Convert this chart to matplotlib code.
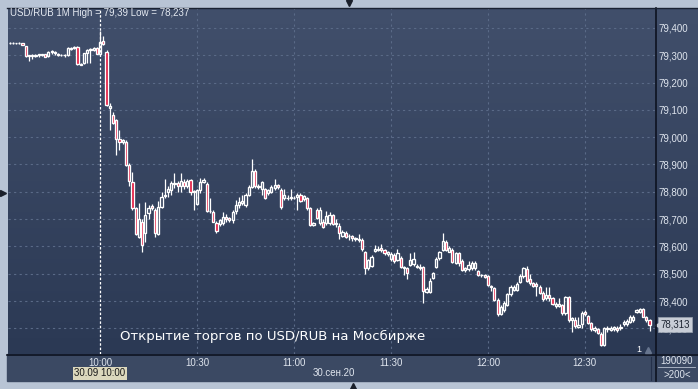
import numpy as np
import pandas as pd
import matplotlib
matplotlib.use("Agg")
import matplotlib.pyplot as plt
from matplotlib.lines import Line2D
from matplotlib.patches import Rectangle
from matplotlib.colors import LinearSegmentedColormap
from matplotlib.ticker import FuncFormatter
import matplotlib.transforms as mtransforms

# Minutenkerzen USD/RUB, 30.09.2020, 09:32 .. 12:50
times = pd.date_range("2020-09-30 09:32", "2020-09-30 12:50", freq="1min")
event_time = pd.Timestamp("2020-09-30 10:00")

opens = [79.344, 79.345, 79.344, 79.345, 79.344, 79.333, 79.298, 79.300, 79.299, 79.301,
         79.302, 79.304, 79.296, 79.312, 79.312, 79.306, 79.302, 79.300, 79.300, 79.324,
         79.326, 79.332, 79.266, 79.270, 79.308, 79.318, 79.320, 79.326,
         79.305, 79.352, 79.313, 79.108, 79.080, 79.063, 78.992, 78.984, 78.982, 78.898,
         78.837, 78.740, 78.635, 78.690, 78.650, 78.722, 78.748, 78.733, 78.646, 78.745,
         78.785, 78.800, 78.807, 78.828, 78.834, 78.823, 78.836, 78.822, 78.843, 78.802,
         78.755, 78.807, 78.836, 78.829, 78.730, 78.727, 78.687, 78.682, 78.685, 78.708,
         78.703, 78.697, 78.730, 78.752, 78.760, 78.752, 78.788, 78.817, 78.877, 78.821,
         78.812, 78.810, 78.795, 78.800, 78.813, 78.825, 78.808, 78.776, 78.776, 78.776,
         78.777, 78.782, 78.788, 78.772, 78.776, 78.740, 78.680, 78.733, 78.685, 78.691,
         78.687, 78.685, 78.715, 78.682, 78.675, 78.639, 78.650, 78.637, 78.638, 78.630,
         78.627, 78.623, 78.580, 78.520, 78.529, 78.585, 78.586, 78.594, 78.586, 78.571,
         78.553, 78.570, 78.550, 78.556, 78.520, 78.520, 78.532, 78.535, 78.524, 78.526,
         78.526, 78.434, 78.434, 78.483, 78.526, 78.556, 78.587, 78.617, 78.581, 78.587,
         78.540, 78.575, 78.548, 78.513, 78.516, 78.520, 78.520, 78.510, 78.494, 78.497,
         78.490, 78.455, 78.447, 78.404, 78.352, 78.367, 78.385, 78.426, 78.440, 78.440,
         78.471, 78.490, 78.516, 78.480, 78.465, 78.464, 78.450, 78.428, 78.410, 78.422,
         78.410, 78.382, 78.383, 78.385, 78.357, 78.416, 78.330, 78.330, 78.306, 78.317,
         78.361, 78.345, 78.320, 78.293, 78.296, 78.280, 78.240, 78.296, 78.293, 78.296,
         78.303, 78.300, 78.315, 78.317, 78.324, 78.330, 78.360, 78.360, 78.370, 78.343,
         78.330]
highs = [79.347, 79.347, 79.346, 79.348, 79.345, 79.335, 79.302, 79.303, 79.304, 79.304,
         79.306, 79.306, 79.316, 79.318, 79.315, 79.309, 79.305, 79.303, 79.330, 79.330,
         79.333, 79.334, 79.272, 79.310, 79.322, 79.326, 79.332, 79.330,
         79.390, 79.370, 79.318, 79.125, 79.093, 79.068, 79.026, 78.995, 78.990, 78.905,
         78.874, 78.745, 78.760, 78.700, 78.764, 78.750, 78.755, 78.740, 78.765, 78.800,
         78.846, 78.820, 78.840, 78.870, 78.840, 78.870, 78.845, 78.848, 78.848, 78.808,
         78.812, 78.850, 78.850, 78.835, 78.776, 78.735, 78.692, 78.700, 78.725, 78.720,
         78.708, 78.735, 78.770, 78.780, 78.790, 78.795, 78.825, 78.920, 78.885, 78.830,
         78.838, 78.815, 78.812, 78.825, 78.846, 78.830, 78.815, 78.810, 78.790, 78.810,
         78.785, 78.795, 78.795, 78.790, 78.782, 78.745, 78.690, 78.740, 78.745, 78.700,
         78.730, 78.725, 78.720, 78.700, 78.687, 78.660, 78.655, 78.645, 78.640, 78.635,
         78.645, 78.630, 78.585, 78.555, 78.570, 78.605, 78.600, 78.607, 78.590, 78.582,
         78.580, 78.575, 78.590, 78.565, 78.530, 78.525, 78.575, 78.578, 78.535, 78.535,
         78.530, 78.450, 78.485, 78.505, 78.560, 78.585, 78.648, 78.625, 78.600, 78.595,
         78.580, 78.580, 78.555, 78.525, 78.545, 78.545, 78.548, 78.515, 78.500, 78.500,
         78.495, 78.460, 78.452, 78.410, 78.385, 78.400, 78.430, 78.460, 78.460, 78.470,
         78.500, 78.525, 78.530, 78.500, 78.470, 78.468, 78.460, 78.435, 78.450, 78.450,
         78.415, 78.395, 78.410, 78.390, 78.420, 78.420, 78.340, 78.340, 78.341, 78.365,
         78.368, 78.350, 78.325, 78.310, 78.300, 78.285, 78.305, 78.310, 78.310, 78.310,
         78.310, 78.315, 78.330, 78.335, 78.348, 78.350, 78.370, 78.375, 78.375, 78.345,
         78.333]
lows = [79.342, 79.343, 79.342, 79.343, 79.336, 79.295, 79.280, 79.288, 79.292, 79.295,
        79.297, 79.292, 79.294, 79.306, 79.302, 79.298, 79.296, 79.294, 79.298, 79.318,
        79.322, 79.266, 79.264, 79.268, 79.273, 79.272, 79.316, 79.303,
        79.300, 79.338, 79.115, 79.026, 79.050, 78.935, 78.953, 78.975, 78.895, 78.820,
        78.735, 78.640, 78.630, 78.580, 78.615, 78.700, 78.735, 78.635, 78.640, 78.740,
        78.777, 78.780, 78.790, 78.815, 78.800, 78.800, 78.810, 78.815, 78.790, 78.733,
        78.750, 78.795, 78.832, 78.725, 78.722, 78.688, 78.650, 78.675, 78.680, 78.690,
        78.690, 78.685, 78.720, 78.740, 78.750, 78.745, 78.785, 78.815, 78.815, 78.812,
        78.790, 78.772, 78.790, 78.795, 78.808, 78.812, 78.738, 78.770, 78.770, 78.770,
        78.772, 78.733, 78.762, 78.768, 78.735, 78.673, 78.675, 78.700, 78.680, 78.668,
        78.680, 78.680, 78.678, 78.670, 78.626, 78.635, 78.630, 78.625, 78.620, 78.620,
        78.615, 78.585, 78.500, 78.515, 78.525, 78.580, 78.582, 78.580, 78.570, 78.565,
        78.548, 78.540, 78.545, 78.520, 78.495, 78.480, 78.528, 78.530, 78.520, 78.515,
        78.392, 78.430, 78.430, 78.480, 78.520, 78.550, 78.585, 78.583, 78.578, 78.540,
        78.535, 78.530, 78.510, 78.508, 78.510, 78.515, 78.515, 78.490, 78.488, 78.484,
        78.455, 78.437, 78.400, 78.345, 78.350, 78.360, 78.380, 78.420, 78.435, 78.435,
        78.465, 78.485, 78.470, 78.460, 78.452, 78.420, 78.425, 78.400, 78.405, 78.400,
        78.385, 78.375, 78.378, 78.350, 78.350, 78.325, 78.287, 78.300, 78.300, 78.300,
        78.345, 78.315, 78.290, 78.285, 78.280, 78.237, 78.237, 78.285, 78.290, 78.290,
        78.288, 78.295, 78.310, 78.310, 78.320, 78.325, 78.355, 78.355, 78.340, 78.325,
        78.290]
closes = [79.345, 79.344, 79.345, 79.344, 79.338, 79.297, 79.300, 79.299, 79.302, 79.303,
          79.304, 79.295, 79.313, 79.314, 79.308, 79.302, 79.300, 79.301, 79.326, 79.326,
          79.330, 79.268, 79.268, 79.307, 79.320, 79.322, 79.326, 79.305,
          79.350, 79.340, 79.118, 79.115, 79.053, 78.993, 78.982, 78.990, 78.898, 78.840,
          78.740, 78.645, 78.700, 78.605, 78.715, 78.740, 78.742, 78.650, 78.745, 78.782,
          78.790, 78.810, 78.831, 78.834, 78.823, 78.838, 78.820, 78.840, 78.800, 78.798,
          78.807, 78.837, 78.842, 78.730, 78.728, 78.690, 78.657, 78.695, 78.708, 78.700,
          78.695, 78.727, 78.752, 78.762, 78.765, 78.788, 78.819, 78.877, 78.821, 78.818,
          78.835, 78.777, 78.807, 78.819, 78.825, 78.818, 78.743, 78.788, 78.779, 78.782,
          78.779, 78.788, 78.767, 78.785, 78.740, 78.680, 78.684, 78.703, 78.733, 78.672,
          78.711, 78.715, 78.682, 78.687, 78.648, 78.652, 78.636, 78.639, 78.630, 78.628,
          78.625, 78.589, 78.520, 78.549, 78.563, 78.589, 78.592, 78.586, 78.575, 78.578,
          78.572, 78.545, 78.575, 78.526, 78.523, 78.502, 78.550, 78.555, 78.527, 78.520,
          78.437, 78.443, 78.475, 78.501, 78.553, 78.581, 78.621, 78.587, 78.593, 78.544,
          78.575, 78.538, 78.513, 78.520, 78.532, 78.538, 78.538, 78.494, 78.497, 78.488,
          78.460, 78.452, 78.404, 78.352, 78.379, 78.394, 78.426, 78.453, 78.453, 78.463,
          78.490, 78.520, 78.474, 78.465, 78.456, 78.455, 78.430, 78.406, 78.422, 78.410,
          78.390, 78.388, 78.388, 78.357, 78.416, 78.330, 78.336, 78.310, 78.314, 78.357,
          78.354, 78.320, 78.296, 78.300, 78.284, 78.240, 78.300, 78.300, 78.303, 78.305,
          78.293, 78.305, 78.324, 78.328, 78.343, 78.343, 78.367, 78.370, 78.343, 78.330,
          78.313]

tick_times = ["10:00", "10:30", "11:00", "11:30", "12:00", "12:30"]
price_ticks = [78.3, 78.4, 78.5, 78.6, 78.7, 78.8, 78.9, 79.0, 79.1, 79.2, 79.3, 79.4]
title = "USD/RUB 1M High = 79,39 Low = 78,237"
event_text = "Открытие торгов по USD/RUB на Мосбирже"
cursor_label = "30.09 10:00"
date_label = "30.сен.20"
volume_label = "190090"
count_label = ">200<"

plt.rcParams['font.family'] = ['Liberation Sans', 'DejaVu Sans']

W, H = 698, 389
def fx(px):
    return px / W
def fy(py):
    return 1 - py / H

fig = plt.figure(figsize=(W / 100, H / 100), dpi=100)
fig.patch.set_facecolor('#b8c4d5')

# Hintergrund: Verlauf hinter Chart und Preisskala
bg = fig.add_axes([fx(8), fy(354), 690 / W, 346 / H])
cmap = LinearSegmentedColormap.from_list('bg', ['#414f6b', '#2b3954'])
bg.imshow(np.linspace(0, 1, 256).reshape(-1, 1), cmap=cmap, aspect='auto')
bg.axis('off')
# untere Zeitleiste
fig.add_artist(Rectangle((fx(7), fy(381)), (W - 7) / W, 27 / H,
                         transform=fig.transFigure, color='#3b4963', zorder=0))

ax = fig.add_axes([fx(8), fy(354), 647 / W, 346 / H])
ax.set_facecolor('none')

x = ((times - event_time).total_seconds() / 60).to_numpy()
o = np.array(opens)
h = np.array(highs)
l = np.array(lows)
c = np.array(closes)

ax.set_xlim(-28.5, 171.7)
ax.set_ylim(78.206, 79.473)

# Gitter
tick_pos = [(pd.Timestamp("2020-09-30 " + s) - event_time).total_seconds() / 60 for s in tick_times]
for p in price_ticks:
    ax.axhline(p, color='#5a6a87', lw=0.8, ls=(0, (2, 3)), zorder=1)
for t in tick_pos[1:]:
    ax.axvline(t, color='#5a6a87', lw=0.8, ls=(0, (2, 3)), zorder=1)
ax.axvline(0, color='white', lw=0.9, ls=(0, (2, 1.5)), zorder=2)

# Kerzen
top = np.maximum(o, c)
bot = np.minimum(o, c)
ax.vlines(x, top, h, color='white', lw=0.9, zorder=3)
ax.vlines(x, l, bot, color='white', lw=0.9, zorder=3)
fill = np.where(c >= o, 'none', '#e3173e')
ax.bar(x, c - o, bottom=o, width=0.68, color=list(fill), edgecolor='white',
       linewidth=0.95, zorder=4)

# Achsen
ax.yaxis.tick_right()
ax.set_yticks(price_ticks)
ax.yaxis.set_major_formatter(FuncFormatter(lambda v, _: f"{v:.3f}".replace('.', ',')))
ax.set_xticks(tick_pos)
ax.set_xticklabels(tick_times)
ax.tick_params(axis='both', length=0, colors='#dfe5ee', labelsize=7)
ax.tick_params(axis='y', pad=2.5)
ax.tick_params(axis='x', pad=3)
for s in ax.spines.values():
    s.set_visible(False)

# Trennlinien
fig.add_artist(Line2D([fx(7), fx(W)], [fy(354.5), fy(354.5)], color='#0d1220', lw=1.2))
fig.add_artist(Line2D([fx(655.5), fx(655.5)], [fy(8), fy(381)], color='#0d1220', lw=1.2))
fig.add_artist(Line2D([fx(7), fx(W)], [fy(8), fy(8)], color='#1a2232', lw=1.0))
fig.add_artist(Line2D([fx(651), fx(651)], [fy(357), fy(380)], color='#24304a', lw=0.8))

# Texte
fig.text(fx(10), fy(13), title, color='#e4e9f1', fontsize=7, va='center', ha='left')
fig.text(fx(120), fy(336), event_text, color='white', fontsize=9.5, va='center', ha='left',
         family='DejaVu Sans')
fig.text(fx(100), fy(373.5), cursor_label, color='#1a1a1a', fontsize=7, va='center', ha='center',
         bbox=dict(boxstyle='square,pad=0.15', facecolor='#dcd8bd', edgecolor='none'))
fig.text(fx(334), fy(373.5), date_label, color='#dfe5ee', fontsize=7, va='center', ha='center')
fig.text(fx(677), fy(361), volume_label, color='#dfe5ee', fontsize=7, va='center', ha='center')
fig.add_artist(Line2D([fx(658), fx(695)], [fy(366.5), fy(366.5)], color='#b7c0cf', lw=0.6))
fig.text(fx(677), fy(374.5), count_label, color='#dfe5ee', fontsize=7, va='center', ha='center')
fig.text(fx(639), fy(349), "1", color='white', fontsize=6.5, va='center', ha='center')
fig.add_artist(Line2D([fx(648)], [fy(350)], marker='^', ms=5, color='#67758e', lw=0))

# letzter Kurs
last = closes[-1]
trans = mtransforms.blended_transform_factory(ax.transAxes, ax.transData)
ax.text(1.008, last, f"{last:.3f}".replace('.', ','), transform=trans, color='#1f2633',
        fontsize=7, va='center', ha='left', clip_on=False, zorder=6,
        bbox=dict(boxstyle='square,pad=0.25', facecolor='#c8cdd6', edgecolor='#9aa3b0', lw=0.5))
ax.plot([1.004], [last], transform=trans, marker='<', ms=5, color='#c8cdd6', clip_on=False, zorder=6)

# Rahmenpfeile
fig.add_artist(Line2D([fx(349)], [fy(3)], marker='v', ms=5, color='#1a1f2a', lw=0))
fig.add_artist(Line2D([fx(3)], [fy(193)], marker='>', ms=5, color='#1a1f2a', lw=0))
fig.add_artist(Line2D([fx(353)], [fy(386)], marker='^', ms=5, color='#1a1f2a', lw=0))

fig.savefig("out.png", dpi=100, facecolor=fig.get_facecolor())
